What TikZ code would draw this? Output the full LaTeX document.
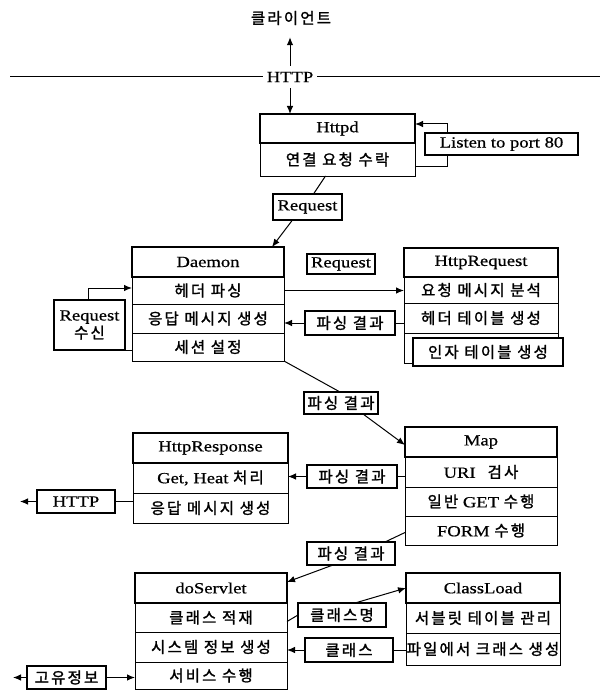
\documentclass[tikz,border=0pt]{standalone}
\usepackage{fontspec}
\setmainfont{Liberation Serif}[FakeStretch=1.2,FakeBold=0.6]
\newfontfamily\kr{Noto Sans CJK KR}[FakeBold=1.5,LetterSpace=14]
\newcommand\K[1]{{\kr\fontsize{15.5}{18}\selectfont #1}}
\usetikzlibrary{arrows.meta}
\begin{document}
\begin{tikzpicture}[x=1pt,y=-1pt,
  box/.style={draw, line width=1pt, inner sep=0pt, outer sep=0pt, anchor=north west,
    font=\fontsize{15.5}{19}\selectfont, align=center},
  ttl/.style={box, line width=1.6pt},
  lbl/.style={box, line width=1.1pt, fill=white},
  sz/.style 2 args={minimum width=#1pt, minimum height=#2pt},
  ln/.style={line width=1pt},
  arr/.style={line width=1pt, -{Latex[length=8pt,width=6.5pt]}}]
\useasboundingbox (0,0) rectangle (606,690);

% top
\node[inner sep=0pt, minimum height=38pt] (client) at (291,18) {\K{클라이언트}};
\node[inner xsep=4pt, inner ysep=0pt, minimum height=22pt, font=\fontsize{15.5}{19}\selectfont] (http) at (290,77) {HTTP};
\coordinate (hl) at (10,77);
\coordinate (hr) at (600,77);
\draw[ln] (hl) -- (http.west);
\draw[ln] (http.east) -- (hr);
\draw[arr] (http.north) -- (http.north |- client.south);

% Httpd
\node[box, sz={155}{33}] (hr1) at (260,143) {\K{연결 요청 수락}};
\node[ttl, sz={155}{29}] (ht) at (260,114) {Httpd};
\draw[arr] (http.south) -- (http.south |- ht.north);
\coordinate (lp1) at (447,166);
\coordinate (lp2) at (447,124);
\draw[arr] (hr1.east |- lp1) -- (lp1) -- (lp2) -- (ht.east |- lp2);
\node[lbl, sz={153}{22}] (listen) at (425,133) {Listen to port 80};

% Daemon
\node[box, sz={152}{27}] (d1) at (132,277) {\K{헤더 파싱}};
\node[box, sz={152}{29}] (d2) at (132,304) {\K{응답 메시지 생성}};
\node[box, sz={152}{28}] (d3) at (132,333) {\K{세션 설정}};
\node[ttl, sz={152}{30}] (dt) at (132,247) {Daemon};

% Request 1
\node[lbl, sz={69}{26}] (rq1) at (273,194) {Request};
\draw[ln] ([xshift=-12pt]hr1.south) -- ([xshift=6pt]rq1.north);
\draw[arr] ([xshift=-15pt]rq1.south) -- ([xshift=64pt]dt.north);

% Request 수신 loop
\coordinate (rl) at (88,350);
\draw[arr] (d3.west |- rl) -- (rl) |- ([yshift=2.5pt]d1.west);
\node[lbl, sz={71}{50}] (rs) at (54,300) {Request\\[-1pt]\K{수신}};

% HttpRequest
\node[box, sz={154}{26}] (q1) at (404,277) {\K{요청 메시지 분석}};
\node[box, sz={154}{30}] (q2) at (404,303) {\K{헤더 테이블 생성}};
\node[box, sz={154}{30}] (q3) at (404,333) {};
\node[ttl, sz={154}{29}] (qt) at (404,248) {HttpRequest};
\node[lbl, line width=1.6pt, sz={150}{28}] (q4) at (413,338) {\K{인자 테이블 생성}};

\node[lbl, sz={68}{20}] (rq2) at (307,254) {Request};
\draw[arr] (d1.east) -- (d1.east -| q1.west);

% parse A
\node[lbl, sz={90}{24}] (pa) at (305,311) {\K{파싱 결과}};
\draw[ln] (q2.west |- pa.east) -- (pa.east);
\draw[arr] (pa.west) -- (pa.west -| d2.east);

% Map
\node[box, sz={152}{30}] (m1) at (405,457) {URI\hspace{12pt}\K{검사}};
\node[box, sz={152}{29}] (m2) at (405,487) {\K{일반} GET \K{수행}};
\node[box, sz={152}{29}] (m3) at (405,516) {FORM \K{수행}};
\node[ttl, sz={152}{30}] (mt) at (405,427) {Map};

% parse B
\node[lbl, sz={74}{22}] (pb) at (304,392) {\K{파싱 결과}};
\draw[ln] (d3.south east) -- ([xshift=-1pt]pb.north);
\draw[arr] ([xshift=22pt]pb.south) -- ([yshift=-3pt]mt.west);

% HttpResponse
\node[box, sz={155}{30}] (r1) at (133,463) {Get, Heat \K{처리}};
\node[box, sz={155}{30}] (r2) at (133,493) {\K{응답 메시지 생성}};
\node[ttl, sz={155}{30}] (rt) at (133,433) {HttpResponse};

% parse C
\node[lbl, sz={90}{23}] (pc) at (307,465) {\K{파싱 결과}};
\draw[ln] (m1.west |- pc.east) -- (pc.east);
\draw[arr] (pc.west) -- (pc.west -| r1.east);

% HTTP out
\node[lbl, sz={78}{23}] (hb) at (37,490) {HTTP};
\coordinate (hbe) at (20,501.5);
\draw[ln] (r2.west |- hb.east) -- (hb.east);
\draw[arr] (hb.west) -- (hbe);

% doServlet
\node[box, sz={152}{29}] (s1) at (135,603) {\K{클래스 적재}};
\node[box, sz={152}{30}] (s2) at (135,632) {\K{시스템 정보 생성}};
\node[box, sz={152}{27}] (s3) at (135,662) {\K{서비스 수행}};
\node[ttl, sz={152}{30}] (dst) at (135,573) {doServlet};

% parse D
\node[lbl, sz={88}{23}] (pd) at (307,542) {\K{파싱 결과}};
\draw[ln] ([yshift=-2pt]m3.west) -- ([xshift=-10pt]pd.north east);
\draw[arr] ([xshift=-18pt]pd.south) -- ([yshift=6pt]dst.east);

% ClassLoad
\node[box, sz={154}{30}] (c1) at (406,603) {\K{서블릿 테이블 관리}};
\node[box, sz={154}{32}] (c2) at (406,633) {\K{파일에서 크래스 생성}};
\node[ttl, sz={154}{30}] (ct) at (406,573) {ClassLoad};

% class name
\node[lbl, sz={88}{24}] (cm) at (298,603) {\K{클래스명}};
\draw[ln] ([yshift=-4pt]s1.east) -- (cm.west);
\draw[arr] ([xshift=13pt]cm.north) -- (ct.west);

% class
\node[lbl, sz={88}{24}] (cls) at (305,638) {\K{클래스}};
\draw[ln] (c2.west |- cls.east) -- (cls.east);
\draw[arr] (cls.west) -- (cls.west -| s2.east);

% unique info
\node[lbl, sz={79}{23}] (gy) at (27,666) {\K{고유정보}};
\coordinate (gye) at (13,677.5);
\draw[arr] (gy.east) -- (gy.east -| s3.west);
\draw[arr] (gy.west) -- (gye);
\end{tikzpicture}
\end{document}
